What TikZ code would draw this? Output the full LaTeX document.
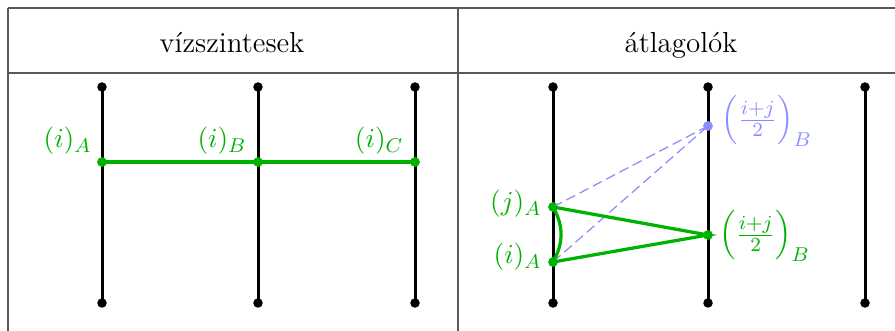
\documentclass[tikz,border=0pt]{standalone}
\usepackage{tikz}
\usepackage{amsmath}
\colorlet{grn}{green!70!black}
\colorlet{lblue}{blue!45}
\colorlet{tabrule}{black!65}
\tikzstyle{rulestyle} = [draw=tabrule, line width=0.6pt]
\tikzstyle{wire} = [draw=black, line width=1.2pt]
\tikzstyle{pin} = [circle, fill=black, inner sep=0pt, minimum size=3.8pt]
\tikzstyle{gpin} = [circle, fill=grn, inner sep=0pt, minimum size=3.9pt]
\tikzstyle{bpin} = [circle, fill=lblue, inner sep=0pt, minimum size=3.9pt]
\tikzstyle{gline} = [draw=grn, line width=1.3pt]
\tikzstyle{bline} = [draw=lblue, line width=0.5pt, dash pattern=on 4pt off 2pt]
\tikzstyle{headtext} = [inner sep=0pt, font=\fontsize{11.6}{14}\selectfont]
\tikzstyle{glabel} = [inner sep=0pt, text=grn, font=\fontsize{11}{13}\selectfont]
\tikzstyle{blabel} = [glabel, text=lblue]

\begin{document}
\begin{tikzpicture}[x=0.4pt, y=-0.4pt]
\useasboundingbox (0,0) rectangle (895,331);

% Table frame
\draw[rulestyle] (8,8) -- (904,8);
\draw[rulestyle] (8,73) -- (904,73);
\draw[rulestyle] (8,8) -- (8,340);
\draw[rulestyle] (458,8) -- (458,340);
% Column headers
\node[headtext, anchor=base] (hl) at (232,53) {vízszintesek};
\node[headtext, anchor=base] (hr) at (681,53) {átlagolók};

% Wire ends, top and bottom
\node[pin] (t1) at (102,87) {};
\node[pin] (t2) at (258,87) {};
\node[pin] (t3) at (415,87) {};
\node[pin] (t4) at (553,87) {};
\node[pin] (t5) at (708,87) {};
\node[pin] (t6) at (865,87) {};
\node[pin] (b1) at (102,303) {};
\node[pin] (b2) at (258,303) {};
\node[pin] (b3) at (415,303) {};
\node[pin] (b4) at (553,303) {};
\node[pin] (b5) at (708,303) {};
\node[pin] (b6) at (865,303) {};
\foreach \k in {1,...,6}
  \draw[wire] (t\k.center) -- (b\k.center);

% Left: horizontal
\node[gpin] (gA) at (102,162) {};
\node[gpin] (gB) at (258,162) {};
\node[gpin] (gC) at (415,162) {};
\draw[gline] (gA.center) -- (gB.center) -- (gC.center);
\node[glabel, anchor=base east] (lA) at (92,148) {$(i)_A$};
\node[glabel, anchor=base east] (lB) at (247,148) {$(i)_B$};
\node[glabel, anchor=base east] (lC) at (404,148) {$(i)_C$};

% Right: diagonal averaging
\node[gpin] (jA) at (553,207) {};
\node[gpin] (iA) at (553,262) {};
\node[gpin] (mB) at (708,235) {};
\node[bpin] (bB) at (708,126) {};
\draw[bline] (jA.center) -- (bB.center);
\draw[bline] (iA.center) -- (bB.center);
\draw[gline] (jA.center) -- (mB.center) -- (iA.center);
\draw[gline] (jA.center) to[bend left=30] (iA.center);
\node[glabel, anchor=base east] (ljA) at (542,211) {$(j)_A$};
\node[glabel, anchor=base east] (liA) at (542,264) {$(i)_A$};
\node[blabel, anchor=base west] (lbB) at (721,127) {$\left(\frac{i+j}{2}\right)_B$};
\node[glabel, anchor=base west] (lmB) at (719,242) {$\left(\frac{i+j}{2}\right)_B$};
\end{tikzpicture}
\end{document}
